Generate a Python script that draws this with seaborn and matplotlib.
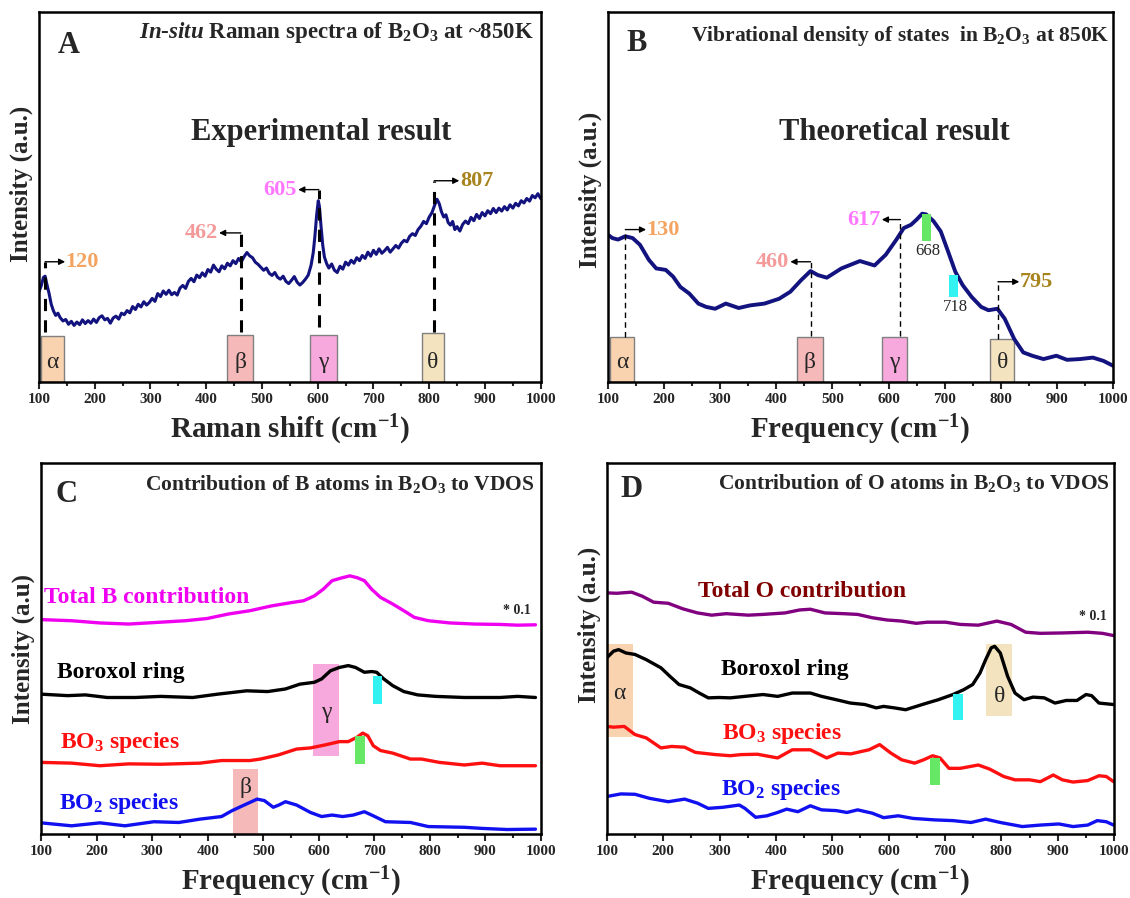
import matplotlib
matplotlib.use("Agg")
import matplotlib.pyplot as plt
import seaborn as sns
from matplotlib.ticker import MultipleLocator
from matplotlib.patches import Rectangle

# ---- Panel A: in-situ Raman spectrum ----
raman_x = [100, 104, 108, 111, 114, 118, 122, 126, 130, 134, 138, 143, 148, 153, 158, 163, 168, 173,
           178, 183, 188, 193, 198, 203, 208, 213, 218, 223, 228, 233, 238, 243, 248, 253, 258, 263,
           268, 273, 278, 283, 288, 293, 298, 303, 308, 313, 318, 323, 328, 333, 338, 343, 348, 353,
           358, 363, 368, 373, 378, 383, 388, 393, 398, 403, 408, 413, 418, 423, 428, 433, 438, 443,
           448, 453, 458, 463, 468, 473, 478, 483, 488, 493, 498, 503, 508, 513, 518, 523, 528, 533,
           538, 543, 548, 553, 558, 563, 568, 573, 578, 583, 588, 592, 595, 598, 601, 603, 606, 609,
           612, 616, 620, 625, 630, 635, 640, 645, 650, 655, 660, 665, 670, 675, 680, 685, 690, 695,
           700, 705, 710, 715, 720, 725, 730, 735, 740, 745, 750, 755, 760, 765, 770, 775, 780, 785,
           790, 795, 800, 805, 810, 814, 818, 822, 826, 830, 834, 838, 842, 846, 850, 855, 860, 865,
           870, 875, 880, 885, 890, 895, 900, 905, 910, 915, 920, 925, 930, 935, 940, 945, 950, 955,
           960, 965, 970, 975, 980, 985, 990, 995, 1000]
raman_y = [24.4, 26.0, 28.3, 28.6, 26.5, 24.0, 21.0, 19.2, 18.0, 18.6, 17.4, 16.5, 16.9, 15.6, 16.4,
           15.3, 16.2, 15.5, 16.8, 15.8, 16.6, 15.9, 17.0, 16.1, 17.4, 17.9, 16.8, 17.2, 15.9, 17.3,
           17.8, 17.0, 18.6, 18.2, 19.3, 18.7, 20.4, 19.6, 21.0, 20.3, 21.7, 20.8, 21.5, 22.6, 21.8,
           23.9, 23.1, 24.6, 23.7, 24.8, 23.6, 24.2, 23.5, 25.4, 26.1, 25.3, 27.2, 28.0, 27.1, 28.9,
           28.2, 29.5, 28.6, 30.4, 29.7, 31.6, 30.5, 29.8, 31.4, 30.6, 32.1, 31.4, 32.8, 32.0, 33.4,
           32.5, 33.9, 35.0, 34.1, 33.6, 32.4, 31.8, 31.0, 30.2, 30.8, 29.4, 28.8, 29.6, 28.3, 27.8,
           28.6, 27.2, 26.6, 27.5, 28.5, 27.0, 26.2, 26.9, 27.8, 28.9, 31.5, 35.0, 39.5, 45.0, 49.0,
           47.5, 42.0, 37.0, 33.8, 32.0, 30.8, 31.9, 30.2, 29.6, 31.3, 30.5, 32.4, 31.6, 32.9, 32.1,
           33.6, 32.8, 34.2, 33.4, 35.1, 34.0, 35.6, 34.5, 36.0, 34.8, 35.5, 36.4, 35.1, 36.0, 36.9,
           36.2, 37.5, 38.3, 37.9, 39.4, 40.1, 39.6, 41.2, 42.1, 43.4, 42.8, 44.6, 45.8, 47.9, 49.4,
           48.2, 46.0, 44.6, 45.2, 43.1, 42.4, 43.4, 41.2, 42.0, 40.8, 42.6, 43.5, 42.8, 44.5, 43.6,
           45.3, 44.2, 45.8, 44.9, 46.3, 45.5, 46.9, 45.8, 47.0, 46.2, 47.4, 46.5, 47.9, 47.0, 48.3,
           47.6, 49.0, 48.4, 49.6, 48.9, 50.4, 49.8, 50.9, 49.6]

# ---- Panel B: total VDOS ----
vdos_x = [100, 108, 118, 131, 144, 157, 173, 186, 203, 216, 229, 245, 261, 275, 291, 310, 333, 353,
          379, 405, 425, 444, 461, 474, 490, 516, 549, 575, 595, 614, 627, 640, 650, 660, 667, 680,
          693, 706, 719, 732, 748, 765, 778, 794, 807, 824, 840, 856, 876, 899, 918, 941, 964, 983, 1000]
vdos_y = [39.8, 38.9, 38.5, 39.4, 38.9, 37.1, 33.0, 30.7, 30.3, 28.5, 25.7, 23.9, 21.2, 20.3, 19.8,
          21.2, 20.0, 20.7, 21.2, 22.5, 24.4, 27.5, 30.0, 28.9, 28.2, 30.7, 32.7, 31.5, 34.4, 38.5,
          41.6, 42.5, 43.9, 45.5, 45.3, 43.5, 40.7, 35.3, 29.8, 26.2, 23.0, 20.3, 19.4, 19.8, 17.1,
          11.6, 8.0, 7.1, 6.2, 7.1, 6.0, 6.2, 6.6, 5.7, 4.4]

# ---- Panel C: B-atom contributions ----
totB_x = [100, 155, 206, 258, 315, 360, 399, 437, 476, 515, 547, 573, 592, 608, 624, 640, 656, 669,
          682, 695, 711, 733, 753, 772, 797, 836, 881, 926, 958, 990]
totB_y = [57.8, 57.5, 56.9, 56.6, 57.1, 57.5, 58.1, 59.3, 60.2, 61.5, 62.3, 62.9, 64.2, 66.0, 68.3,
          69.0, 69.6, 69.1, 68.3, 66.0, 63.8, 62.0, 60.2, 58.4, 57.5, 56.9, 56.6, 56.5, 56.3, 56.4]
ringB_x = [100, 148, 180, 219, 270, 315, 373, 418, 470, 508, 540, 566, 592, 605, 621, 637, 653, 666,
           682, 695, 704, 717, 733, 753, 778, 810, 862, 926, 958, 990]
ringB_y = [37.7, 37.3, 37.5, 36.8, 36.8, 37.1, 36.8, 37.7, 38.6, 38.4, 39.1, 40.4, 40.9, 41.8, 44.0,
           44.9, 45.4, 44.9, 43.6, 43.8, 43.6, 41.8, 40.0, 38.4, 37.5, 37.1, 36.8, 36.8, 37.1, 36.8]
bo3B_x = [100, 155, 206, 258, 315, 386, 425, 476, 495, 527, 560, 585, 611, 637, 653, 669, 679, 688,
          698, 711, 733, 765, 785, 817, 862, 894, 926, 990]
bo3B_y = [19.3, 19.1, 18.4, 18.9, 18.8, 19.1, 19.8, 19.8, 20.2, 21.3, 22.9, 23.2, 24.0, 24.9, 24.9,
          26.1, 27.2, 26.5, 23.8, 22.5, 21.8, 20.2, 20.2, 19.3, 18.6, 19.1, 18.4, 18.4]
bo2B_x = [100, 155, 206, 251, 303, 348, 386, 425, 444, 470, 489, 502, 518, 528, 540, 560, 585, 605,
          624, 643, 662, 682, 698, 720, 765, 797, 862, 894, 939, 990]
bo2B_y = [3.0, 2.2, 3.0, 2.2, 3.3, 3.1, 4.0, 4.7, 6.3, 8.1, 9.4, 9.0, 7.2, 7.8, 8.7, 7.8, 5.8, 4.7,
          5.1, 4.7, 5.1, 6.0, 4.9, 3.3, 3.1, 2.0, 1.8, 1.5, 1.2, 1.3]

# ---- Panel D: O-atom contributions ----
totO_x = [100, 118, 144, 163, 183, 209, 235, 261, 286, 312, 351, 377, 416, 442, 461, 487, 520, 545,
          571, 597, 623, 649, 668, 701, 727, 759, 792, 817, 843, 869, 908, 953, 979, 999]
totO_y = [65.0, 64.9, 65.2, 64.1, 62.5, 62.2, 60.7, 59.6, 59.0, 59.4, 59.0, 59.2, 59.6, 60.4, 60.6,
          59.6, 59.4, 59.2, 58.3, 57.7, 57.4, 56.8, 57.1, 57.1, 56.5, 56.3, 57.4, 56.5, 54.4, 54.1,
          54.2, 54.4, 54.1, 53.5]
ringO_x = [100, 112, 121, 134, 150, 170, 196, 212, 228, 248, 264, 280, 299, 319, 345, 377, 403, 429,
           461, 481, 507, 532, 558, 578, 591, 610, 630, 649, 668, 688, 714, 733, 749, 762, 772, 782,
           788, 798, 811, 824, 840, 856, 876, 895, 915, 934, 950, 960, 973, 999]
ringO_y = [47.5, 49.3, 49.7, 48.8, 48.4, 47.0, 44.8, 42.5, 40.3, 39.4, 38.0, 36.7, 36.8, 36.7, 37.1,
           37.6, 37.1, 38.0, 38.0, 37.1, 36.2, 35.3, 34.9, 34.0, 34.4, 34.0, 33.5, 34.4, 35.3, 36.2,
           37.6, 38.9, 40.3, 43.4, 47.0, 50.2, 50.6, 48.8, 42.5, 38.0, 36.2, 36.9, 36.7, 35.3, 36.0,
           36.0, 37.6, 37.3, 35.3, 34.9]
bo3O_x = [100, 112, 131, 150, 170, 196, 215, 238, 257, 293, 319, 338, 367, 403, 429, 461, 490, 510,
          533, 565, 584, 604, 623, 646, 662, 678, 691, 707, 727, 759, 779, 804, 824, 850, 869, 892,
          908, 927, 953, 973, 986, 999]
bo3O_y = [29.0, 28.8, 29.0, 26.8, 25.9, 23.2, 23.6, 23.4, 22.0, 21.4, 21.1, 21.4, 21.5, 20.5, 22.7,
          22.7, 20.5, 21.8, 21.6, 22.7, 24.1, 21.8, 20.0, 19.1, 20.0, 21.1, 20.5, 17.7, 17.7, 18.6,
          17.5, 15.5, 14.6, 14.6, 14.1, 15.9, 14.6, 14.0, 14.4, 15.7, 15.5, 14.1]
bo2O_x = [100, 125, 150, 176, 209, 238, 261, 280, 306, 335, 345, 364, 384, 403, 419, 439, 461, 481,
          507, 526, 545, 571, 591, 617, 643, 681, 714, 746, 772, 798, 837, 869, 902, 927, 953, 970,
          986, 999]
bo2O_y = [10.1, 10.8, 10.7, 9.6, 8.7, 9.4, 8.3, 6.9, 7.2, 7.8, 6.9, 4.5, 4.9, 5.8, 6.7, 6.0, 7.6,
          6.5, 6.3, 5.8, 6.5, 5.6, 4.4, 4.9, 4.2, 3.8, 3.6, 3.1, 4.0, 3.1, 2.0, 2.4, 2.7, 2.0, 2.4,
          3.6, 3.3, 2.4]

peaks_exp = ["120", "462", "605", "807"]
peaks_theo = ["130", "460", "617", "795"]
greek = ["\u03b1", "\u03b2", "\u03b3", "\u03b8"]

navy = "#13137F"
box_cols = {"\u03b1": "#F9D3B0", "\u03b2": "#F5B9B9", "\u03b3": "#F7A8DC", "\u03b8": "#F3E3BE"}
lab_cols = ["#F4A460", "#F49A9A", "#FF77FF", "#A8841E"]
green = "#66E866"
cyan = "#33F2F2"

sns.set_theme(style="white")
plt.rcParams["font.family"] = ["Liberation Serif", "DejaVu Serif"]
plt.rcParams["font.weight"] = "bold"
plt.rcParams["mathtext.fontset"] = "custom"
plt.rcParams["mathtext.rm"] = "Liberation Serif:bold"
plt.rcParams["mathtext.it"] = "Liberation Serif:italic:bold"
plt.rcParams["mathtext.bf"] = "Liberation Serif:bold"
plt.rcParams["axes.linewidth"] = 1.8

fig = plt.figure(figsize=(11.3, 8.98), dpi=100)
axA = fig.add_axes([0.0345, 0.5746, 0.444, 0.412])
axB = fig.add_axes([0.538, 0.5746, 0.447, 0.412])
axC = fig.add_axes([0.0363, 0.0713, 0.4425, 0.413])
axD = fig.add_axes([0.537, 0.0713, 0.449, 0.413])


def style(ax, xlabel, ylabel, ly):
    ax.set_xlim(100, 1000)
    ax.set_ylim(0, 100)
    ax.set_xticks(range(100, 1001, 100))
    ax.xaxis.set_minor_locator(MultipleLocator(50))
    ax.set_yticks([])
    ax.tick_params(axis="x", which="major", direction="out", length=5, width=1.5,
                   labelsize=11, pad=3, bottom=True)
    ax.tick_params(axis="x", which="minor", direction="out", length=3, width=1.5, bottom=True)
    for lab in ax.get_xticklabels():
        lab.set_fontweight("bold")
    for s in ax.spines.values():
        s.set_color("black")
        s.set_linewidth(1.8)
    ax.set_xlabel(xlabel, fontsize=21, fontweight="bold", labelpad=5)
    ax.set_ylabel(ylabel, fontsize=18, fontweight="bold", labelpad=4)
    ax.yaxis.set_label_coords(-0.012, ly)
    ax.grid(False)


def gbox(ax, x0, x1, y0, y1, letter, ty, edge=True, alpha=1.0):
    ax.add_patch(Rectangle((x0, y0), x1 - x0, y1 - y0, facecolor=box_cols[letter],
                           edgecolor="#808080" if edge else "none", lw=1.0, alpha=alpha, zorder=1))
    ax.text((x0 + x1) / 2, ty, letter, ha="center", va="center", fontsize=17,
            fontweight="normal", zorder=5)


def bar(ax, x0, x1, y0, y1, col):
    ax.add_patch(Rectangle((x0, y0), x1 - x0, y1 - y0, facecolor=col, edgecolor="none", zorder=4))


def mark(ax, xl, yb, yt, xa, label, col, lw, dash):
    ax.plot([xl, xl], [yb, yt], color="black", lw=lw, ls=(0, dash), zorder=3)
    ax.annotate("", xy=(xa, yt), xytext=(xl, yt),
                arrowprops=dict(arrowstyle="-|>", color="black", lw=1.0, mutation_scale=9,
                                shrinkA=0, shrinkB=0), zorder=3)
    if xa > xl:
        ax.text(xa + 1, yt, label, ha="left", va="center", color=col, fontsize=16)
    else:
        ax.text(xa - 2, yt, label, ha="right", va="center", color=col, fontsize=16)


# ---------- A ----------
sns.lineplot(x=raman_x, y=raman_y, ax=axA, color=navy, lw=2.2, zorder=2)
style(axA, "Raman shift (cm$^{-1}$)", "Intensity (a.u.)", 0.535)
axA.text(153, 91, "A", ha="center", va="center", fontsize=22)
axA.text(988, 94.4, "$In$-$situ$ Raman spectra of B$_2$O$_3$ at ~850K", ha="right",
         va="center", fontsize=16.5)
axA.text(606, 67.5, "Experimental result", ha="center", va="center", fontsize=22)
gbox(axA, 103, 144, 0, 12.5, greek[0], 5.3)
gbox(axA, 437.5, 484, 0, 12.8, greek[1], 5.3)
gbox(axA, 587, 634, 0, 12.8, greek[2], 5.3)
gbox(axA, 787, 826, 0, 13.2, greek[3], 5.3)
mark(axA, 111, 13.5, 32.5, 147, peaks_exp[0], lab_cols[0], 2.2, (4, 3))
mark(axA, 462, 13.5, 40.3, 423, peaks_exp[1], lab_cols[1], 2.2, (4, 3))
mark(axA, 602, 14.8, 52.0, 565, peaks_exp[2], lab_cols[2], 2.2, (4, 3))
mark(axA, 809, 13.5, 54.4, 854, peaks_exp[3], lab_cols[3], 2.2, (4, 3))

# ---------- B ----------
sns.lineplot(x=vdos_x, y=vdos_y, ax=axB, color=navy, lw=2.8, zorder=2)
style(axB, "Frequency (cm$^{-1}$)", "Intensity (a.u.)", 0.52)
axB.text(152, 91.6, "B", ha="center", va="center", fontsize=22)
axB.text(994, 93.5, "Vibrational density of states  in B$_2$O$_3$ at 850K", ha="right",
         va="center", fontsize=15.5)
axB.text(611, 67.5, "Theoretical result", ha="center", va="center", fontsize=22)
gbox(axB, 103, 147, 0, 12.1, greek[0], 5.3)
gbox(axB, 436, 484, 0, 12.3, greek[1], 5.3)
gbox(axB, 588, 633, 0, 12.3, greek[2], 5.3)
gbox(axB, 781, 824, 0, 11.5, greek[3], 5.3)
mark(axB, 131, 12.1, 41.2, 168, peaks_theo[0], lab_cols[0], 1.0, (4, 3))
mark(axB, 461, 12.5, 32.5, 425, peaks_theo[1], lab_cols[1], 1.0, (4, 3))
mark(axB, 621, 12.5, 43.9, 588, peaks_theo[2], lab_cols[2], 1.0, (4, 3))
mark(axB, 795, 11.6, 27.1, 833, peaks_theo[3], lab_cols[3], 1.0, (4, 3))
bar(axB, 659, 676, 38.2, 45.5, green)
bar(axB, 708, 724, 23.0, 28.9, cyan)
axB.text(670, 35.3, "668", ha="center", va="center", fontsize=12, fontweight="normal")
axB.text(720, 20.3, "718", ha="center", va="center", fontsize=12, fontweight="normal")

# ---------- C ----------
gbox(axC, 589, 636, 21.1, 45.8, greek[2], 32.8, edge=False)
gbox(axC, 445, 490, 0, 17.5, greek[1], 12.6, edge=False)
sns.lineplot(x=totB_x, y=totB_y, ax=axC, color="#F000F0", lw=2.4, zorder=2)
sns.lineplot(x=ringB_x, y=ringB_y, ax=axC, color="black", lw=2.4, zorder=2)
sns.lineplot(x=bo3B_x, y=bo3B_y, ax=axC, color="#FF1010", lw=2.4, zorder=2)
sns.lineplot(x=bo2B_x, y=bo2B_y, ax=axC, color="#1010F0", lw=2.4, zorder=2)
bar(axC, 697, 714, 35.0, 42.5, cyan)
bar(axC, 666, 683, 18.9, 26.3, green)
style(axC, "Frequency (cm$^{-1}$)", "Intensity (a.u)", 0.5)
axC.text(145, 91.6, "C", ha="center", va="center", fontsize=22)
axC.text(988, 94.3, "Contribution of B atoms in B$_2$O$_3$ to VDOS", ha="right",
         va="center", fontsize=15.5)
axC.text(106, 63.8, "Total B contribution", ha="left", va="center", fontsize=17, color="#F000F0")
axC.text(981, 60.2, "* 0.1", ha="right", va="center", fontsize=10)
axC.text(129, 43.6, "Boroxol ring", ha="left", va="center", fontsize=17, color="black")
axC.text(135, 24.7, "BO$_3$ species", ha="left", va="center", fontsize=17, color="#FF1010")
axC.text(132, 8.1, "BO$_2$ species", ha="left", va="center", fontsize=17, color="#1010F0")

# ---------- D ----------
gbox(axD, 100, 146, 26.1, 51.1, greek[0], 38.0, edge=False)
gbox(axD, 773, 819, 31.7, 51.1, greek[3], 37.1, edge=False)
sns.lineplot(x=totO_x, y=totO_y, ax=axD, color="#800080", lw=2.4, zorder=2)
sns.lineplot(x=ringO_x, y=ringO_y, ax=axD, color="black", lw=2.4, zorder=2)
sns.lineplot(x=bo3O_x, y=bo3O_y, ax=axD, color="#FF1010", lw=2.4, zorder=2)
sns.lineplot(x=bo2O_x, y=bo2O_y, ax=axD, color="#1010F0", lw=2.4, zorder=2)
bar(axD, 714, 731, 30.6, 37.7, cyan)
bar(axD, 674, 691, 13.2, 20.5, green)
style(axD, "Frequency (cm$^{-1}$)", "Intensity (a.u.)", 0.565)
axD.text(144, 93, "D", ha="center", va="center", fontsize=22)
axD.text(992, 94.5, "Contribution of O atoms in B$_2$O$_3$ to VDOS", ha="right",
         va="center", fontsize=15.5)
axD.text(261, 65.5, "Total O contribution", ha="left", va="center", fontsize=17, color="#800000")
axD.text(986, 58.7, "* 0.1", ha="right", va="center", fontsize=10)
axD.text(303, 44.3, "Boroxol ring", ha="left", va="center", fontsize=17, color="black")
axD.text(305, 27.2, "BO$_3$ species", ha="left", va="center", fontsize=17, color="#FF1010")
axD.text(303, 11.9, "BO$_2$ species", ha="left", va="center", fontsize=17, color="#1010F0")

fig.savefig("out.png", dpi=100)
